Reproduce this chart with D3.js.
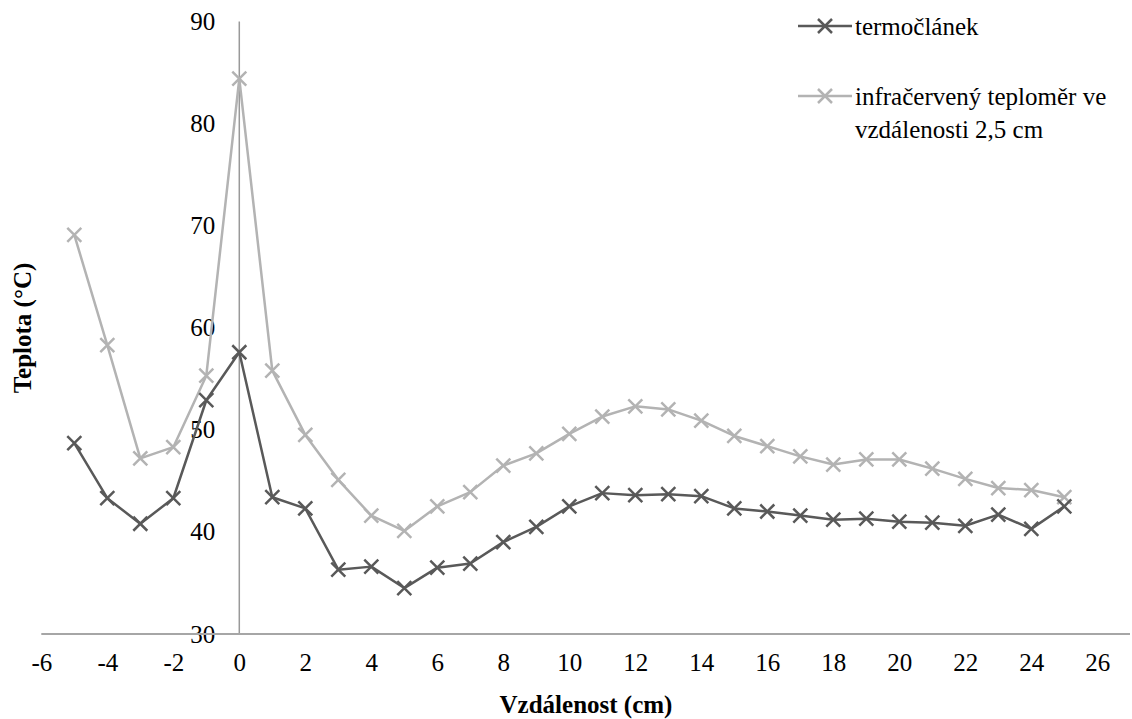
<!DOCTYPE html>
<html>
<head>
<meta charset="utf-8">
<script src="https://cdn.jsdelivr.net/npm/d3@7"></script>
<style>
  body { margin: 0; background: #fff; }
  svg { display: block; }
  svg text { font-family: "Liberation Serif", "Times New Roman", Times, "Noto Serif", "DejaVu Serif", serif !important; fill: #000; }
</style>
</head>
<body>
<svg id="chart" width="1132" height="719"></svg>
<script>
const distances = [-5,-4,-3,-2,-1,0,1,2,3,4,5,6,7,8,9,10,11,12,13,14,15,16,17,18,19,20,21,22,23,24,25];
const termoclanek = [48.7,43.3,40.8,43.3,52.9,57.6,43.4,42.3,36.3,36.6,34.5,36.5,36.9,39.0,40.5,42.5,43.8,43.6,43.7,43.5,42.3,42.0,41.6,41.2,41.3,41.0,40.9,40.6,41.7,40.3,42.5];
const infracerveny = [69.1,58.3,47.2,48.3,55.3,84.4,55.8,49.5,45.1,41.6,40.1,42.5,43.9,46.5,47.7,49.6,51.3,52.3,52.0,50.9,49.4,48.4,47.4,46.6,47.1,47.1,46.2,45.2,44.3,44.1,43.4];
const xTicks = [-6,-4,-2,0,2,4,6,8,10,12,14,16,18,20,22,24,26];
const yTicks = [30,40,50,60,70,80,90];
const legendLines = [["termočlánek"], ["infračervený teploměr ve", "vzdálenosti 2,5 cm"]];
const seriesColors = ["#595959", "#b3b3b3"];
const xTitle = "Vzdálenost (cm)";
const yTitle = "Teplota (°C)";

const FONT = '"Liberation Serif", "Times New Roman", Times, "Noto Serif", "DejaVu Serif", serif';
const svg = d3.select("#chart");
const x = d3.scaleLinear().domain([-6, 26]).range([41.3, 1097.3]);
const y = d3.scaleLinear().domain([30, 90]).range([634, 21.5]);

// X axis
const xAxis = svg.append("g").attr("transform", `translate(0,${y(30)})`)
  .call(d3.axisBottom(x).tickValues(xTicks).tickSize(0).tickPadding(19).tickFormat(d => String(d)));
xAxis.attr("font-family", FONT);
xAxis.select(".domain").remove();
xAxis.selectAll("text").style("font-size", "25px").attr("fill", "#000");

// Y axis labels
const yAxis = svg.append("g").attr("transform", `translate(${x(0)},0)`)
  .call(d3.axisLeft(y).tickValues(yTicks).tickSize(0).tickPadding(24).tickFormat(d => String(d)));
yAxis.attr("font-family", FONT);
yAxis.select(".domain").remove();
yAxis.selectAll("text").style("font-size", "25px").attr("fill", "#000");

// axis lines
svg.append("line").attr("x1", x(0)).attr("x2", x(0)).attr("y1", y(90)).attr("y2", y(30))
  .attr("stroke", "#999").attr("stroke-width", 1.5);
svg.append("line").attr("x1", x(-6)).attr("x2", 1130).attr("y1", y(30)).attr("y2", y(30))
  .attr("stroke", "#a6a6a6").attr("stroke-width", 2);

// series
const data = [termoclanek, infracerveny];
const line = d3.line().x((d, i) => x(distances[i])).y(d => y(d));
const ms = 7;
function cross(g, cx, cy, color) {
  g.append("path")
    .attr("d", `M${cx-ms},${cy-ms}L${cx+ms},${cy+ms}M${cx-ms},${cy+ms}L${cx+ms},${cy-ms}`)
    .attr("stroke", color).attr("stroke-width", 2.5).attr("fill", "none");
}
[1, 0].forEach(s => {
  const g = svg.append("g");
  g.append("path").datum(data[s]).attr("d", line).attr("fill", "none")
    .attr("stroke", seriesColors[s]).attr("stroke-width", 2.5).attr("stroke-linejoin", "round");
  data[s].forEach((v, i) => cross(g, x(distances[i]), y(v), seriesColors[s]));
});

// legend
const legY = [26, 96];
legendLines.forEach((lines, s) => {
  const g = svg.append("g");
  g.append("line").attr("x1", 798).attr("x2", 852).attr("y1", legY[s]).attr("y2", legY[s])
    .attr("stroke", seriesColors[s]).attr("stroke-width", 2.5);
  cross(g, 825, legY[s], seriesColors[s]);
  lines.forEach((t, k) => {
    g.append("text").attr("x", 855).attr("y", legY[s] + k * 33).attr("dy", "0.35em")
      .attr("font-family", FONT).style("font-size", "25px").text(t);
  });
});

// titles
svg.append("text").attr("x", 586).attr("y", 704).attr("dy", "0.35em").attr("text-anchor", "middle")
  .attr("font-family", FONT).style("font-size", "25px").style("font-weight", "bold").text(xTitle);
svg.append("text").attr("transform", `translate(22,328) rotate(-90)`).attr("dy", "0.35em").attr("text-anchor", "middle")
  .attr("font-family", FONT).style("font-size", "25px").style("font-weight", "bold").text(yTitle);
</script>
</body>
</html>
